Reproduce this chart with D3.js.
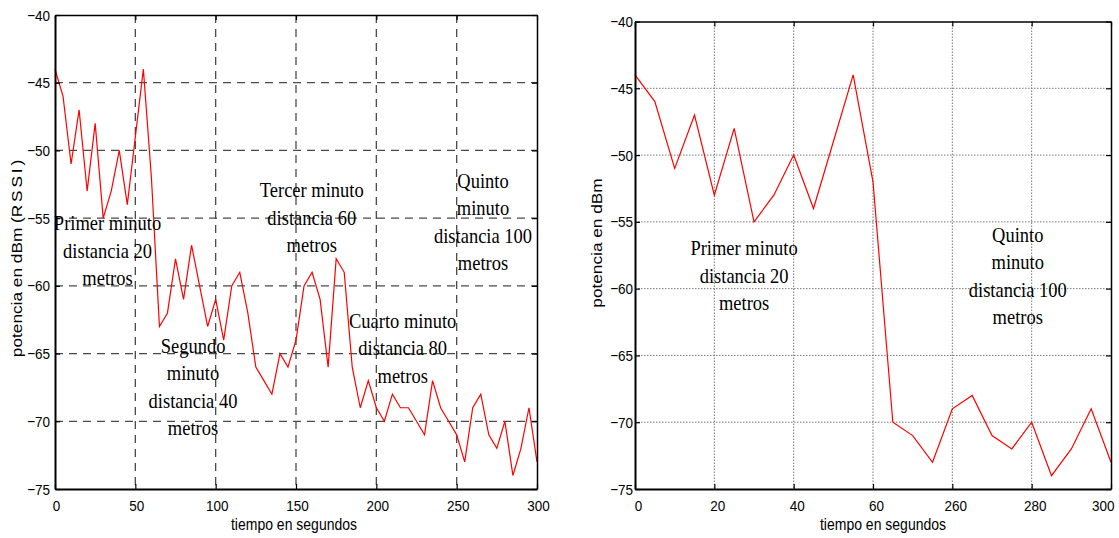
<!DOCTYPE html>
<html>
<head>
<meta charset="utf-8">
<script src="https://cdn.jsdelivr.net/npm/d3@7"></script>
<style>
  html, body { margin: 0; padding: 0; background: #fff; }
  svg { display: block; }
  .tick text { font-family: "Liberation Sans", Arial, sans-serif; font-size: 13.5px; fill: #000;
               transform-box: fill-box; transform-origin: center; transform: scaleY(1.15); }
  .note { font-family: "Liberation Serif", "Times New Roman", serif; font-size: 18.5px; fill: #000; }
  .axlbl { font-family: "Liberation Sans", Arial, sans-serif; font-size: 14px; fill: #000; }
  .ylbl { font-family: "Liberation Sans", Arial, sans-serif; font-size: 15px; fill: #000; }
</style>
</head>
<body>
<svg id="chart" width="1119" height="538"></svg>
<script>
// RSSI sampled every 5 seconds over five minutes (one minute per distance)
const seconds = [
  0, 5, 10, 15, 20, 25, 30, 35, 40, 45,
  50, 55, 60, 65, 70, 75, 80, 85, 90, 95,
  100, 105, 110, 115, 120, 125, 130, 135, 140, 145,
  150, 155, 160, 165, 170, 175, 180, 185, 190, 195,
  200, 205, 210, 215, 220, 225, 230, 235, 240, 245,
  250, 255, 260, 265, 270, 275, 280, 285, 290, 295,
  300
];
const rssi = [
  -44, -46, -51, -47, -53, -48, -55, -53, -50, -54,
  -49, -44, -52, -63, -62, -58, -61, -57, -60, -63,
  -61, -64, -60, -59, -62, -66, -67, -68, -65, -66,
  -64, -60, -59, -61, -66, -58, -59, -66, -69, -67,
  -69, -70, -68, -69, -69, -70, -71, -67, -69, -70,
  -71, -73, -69, -68, -71, -72, -70, -74, -72, -69,
  -73
];

// Second panel: first minute followed directly by the fifth minute
const rightPos = [
  0, 5, 10, 15, 20, 25, 30, 35, 40, 45, 50, 55, 60,
  65, 70, 75, 80, 85, 90, 95, 100, 105, 110, 115, 120
];
const rightRssi = [
  -44, -46, -51, -47, -53, -48, -55, -53, -50, -54, -49, -44, -52,
  -70, -71, -73, -69, -68, -71, -72, -70, -74, -72, -69, -73
];

const yTicks = [-40, -45, -50, -55, -60, -65, -70, -75];
const leftXTicks = [0, 50, 100, 150, 200, 250, 300];
const rightXTicks = [0, 20, 40, 60, 80, 100, 120];
const rightXLabels = ["0", "20", "40", "60", "260", "280", "300"];

const leftNotes = [
  { t: 32.7, v: -55.9, lines: ["Primer minuto", "distancia 20", "metros"] },
  { t: 85.9, v: -64.95, lines: ["Segundo", "minuto", "distancia 40", "metros"] },
  { t: 159.8, v: -53.45, lines: ["Tercer minuto", "distancia 60", "metros"] },
  { t: 216.4, v: -63.1, lines: ["Cuarto minuto", "distancia 80", "metros"] },
  { t: 266.4, v: -52.75, lines: ["Quinto", "minuto", "distancia 100", "metros"] }
];
const rightNotes = [
  { t: 27.5, v: -57.5, lines: ["Primer minuto", "distancia 20", "metros"] },
  { t: 96.5, v: -56.5, lines: ["Quinto", "minuto", "distancia 100", "metros"] }
];

const svg = d3.select("#chart");

function drawPanel(cfg) {
  const x = d3.scaleLinear().domain(cfg.xDomain).range([cfg.left, cfg.right]);
  const y = d3.scaleLinear().domain([-75, -40]).range([cfg.bottom, cfg.top]);
  const g = svg.append("g");

  // grid
  const grid = g.append("g")
    .attr("stroke", cfg.gridColor)
    .attr("stroke-width", cfg.gridWidth)
    .attr("stroke-dasharray", cfg.gridDash)
    .attr("fill", "none");
  grid.selectAll("line.v")
    .data(cfg.xTicks.filter(d => d !== cfg.xDomain[0] && d !== cfg.xDomain[1]))
    .join("line")
    .attr("x1", d => x(d)).attr("x2", d => x(d))
    .attr("y1", cfg.top).attr("y2", cfg.bottom);
  grid.selectAll("line.h")
    .data(yTicks.filter(d => d !== -40 && d !== -75))
    .join("line")
    .attr("x1", cfg.left).attr("x2", cfg.right)
    .attr("y1", d => y(d)).attr("y2", d => y(d));

  // data line
  const pts = cfg.xs.map((t, i) => ({ t, v: cfg.ys[i] }));
  g.append("path")
    .datum(pts)
    .attr("fill", "none")
    .attr("stroke", "#ff0000")
    .attr("stroke-width", 1.2)
    .attr("stroke-linejoin", "miter")
    .attr("d", d3.line().x(d => x(d.t)).y(d => y(d.v)));

  // frame: top and right with inward ticks
  const top = g.append("g").attr("transform", `translate(0,${cfg.top})`)
    .call(d3.axisTop(x).tickValues(cfg.xTicks).tickSizeInner(-5).tickSizeOuter(0).tickFormat(""));
  const right = g.append("g").attr("transform", `translate(${cfg.right},0)`)
    .call(d3.axisRight(y).tickValues(yTicks).tickSizeInner(-5).tickSizeOuter(0).tickFormat(""));
  [top, right].forEach(a => {
    a.select(".domain").attr("stroke", "#000").attr("stroke-width", 1.5);
    a.selectAll(".tick line").attr("stroke", "#000").attr("stroke-width", 1.2);
  });

  // bottom and left axes with labels
  const bottom = g.append("g").attr("transform", `translate(0,${cfg.bottom})`)
    .call(d3.axisBottom(x).tickValues(cfg.xTicks).tickSizeInner(-5).tickSizeOuter(0)
      .tickPadding(12).tickFormat((d, i) => cfg.xLabels[i]));
  const leftAx = g.append("g").attr("transform", `translate(${cfg.left},0)`)
    .call(d3.axisLeft(y).tickValues(yTicks).tickSizeInner(-5).tickSizeOuter(0)
      .tickPadding(cfg.yPad).tickFormat(d3.format("d")));
  [bottom, leftAx].forEach(a => {
    a.select(".domain").attr("stroke", "#000").attr("stroke-width", 2);
    a.selectAll(".tick line").attr("stroke", "#000").attr("stroke-width", 1.2);
    a.selectAll(".tick text").attr("font-family", null).attr("font-size", null);
  });
  g.selectAll(".tick text").style("font-family", "'Liberation Sans', Arial, sans-serif").style("font-size", "13.5px");

  // nudge x tick labels; the last one stays inside the frame
  const xt = bottom.selectAll(".tick text");
  const n = xt.size();
  xt.each(function (d, i) {
    const el = d3.select(this);
    if (cfg.lastLabelEnd && i === n - 1) {
      el.attr("text-anchor", "end").attr("x", 3);
    } else {
      el.attr("x", cfg.xLabelDx);
    }
  });

  // axis titles
  g.append("text").attr("class", "axlbl")
    .attr("text-anchor", "middle")
    .attr("transform", `translate(${cfg.xLabelX},530) scale(1,1.15)`)
    .text("tiempo en segundos");
  const yl = g.append("text").attr("class", "ylbl")
    .attr("text-anchor", "middle")
    .attr("transform", `translate(${cfg.yLabelX},${cfg.yLabelY}) rotate(-90) scale(1.15,1)`);
  yl.append("tspan").text(cfg.yLabel);
  if (cfg.yLabelExtra) {
    yl.append("tspan").attr("letter-spacing", "2.5px").text(cfg.yLabelExtra);
  }

  // annotations
  cfg.notes.forEach(n => {
    const lh = n.lh || 27.5;
    const k = 1.1;
    const t = g.append("text").attr("class", "note")
      .attr("text-anchor", "middle")
      .attr("transform", `translate(${x(n.t)},${y(n.v)}) scale(1,${k})`);
    n.lines.forEach((s, i) => {
      t.append("tspan").attr("x", 0).attr("y", i * lh / k).text(s);
    });
  });
}

drawPanel({
  xDomain: [0, 300], left: 55, right: 537, top: 15, bottom: 489,
  xs: seconds, ys: rssi,
  xTicks: leftXTicks, xLabels: leftXTicks.map(String),
  gridColor: "#4a4a4a", gridWidth: 1.3, gridDash: "8,6",
  yPad: 5, xLabelDx: 1, lastLabelEnd: false,
  xLabelX: 294,
  yLabelX: 22, yLabelY: 257, yLabel: "potencia en dBm (", yLabelExtra: "RSSI)",
  notes: leftNotes
});

drawPanel({
  xDomain: [0, 120], left: 635, right: 1111, top: 21.5, bottom: 489,
  xs: rightPos, ys: rightRssi,
  xTicks: rightXTicks, xLabels: rightXLabels,
  gridColor: "#777", gridWidth: 1, gridDash: "1.5,1.5",
  yPad: 2, xLabelDx: 3, lastLabelEnd: true,
  xLabelX: 883,
  yLabelX: 602, yLabelY: 243, yLabel: "potencia en dBm",
  notes: rightNotes
});
</script>
</body>
</html>
